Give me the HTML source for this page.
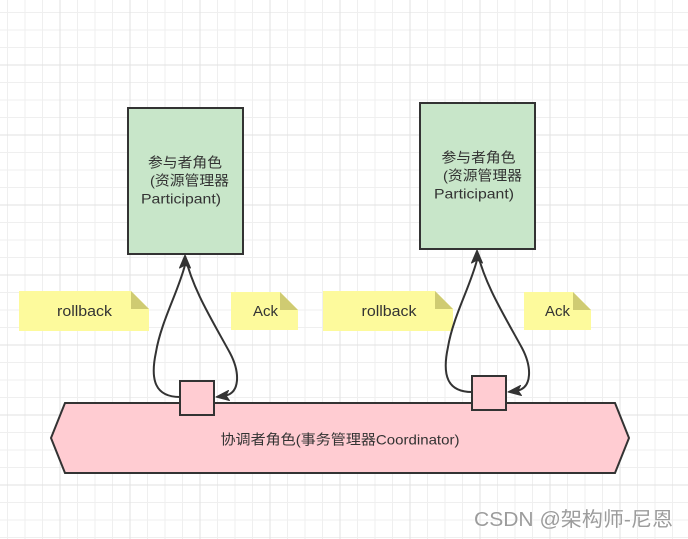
<!DOCTYPE html>
<html><head><meta charset="utf-8"><style>
html,body{margin:0;padding:0;background:#fff;}
svg{display:block;}
text{font-family:"Liberation Sans","Noto Sans CJK SC",sans-serif;fill:#333;}
</style></head><body>
<svg width="688" height="539" viewBox="0 0 688 539" xmlns="http://www.w3.org/2000/svg">
<rect width="688" height="539" fill="#fff"/>
<path stroke="#efefef" stroke-width="1" fill="none" d="M7.5 0V539M25 0V539M42.5 0V539M77.5 0V539M95 0V539M112.5 0V539M147.5 0V539M165 0V539M182.5 0V539M217.5 0V539M235 0V539M252.5 0V539M287.5 0V539M305 0V539M322.5 0V539M357.5 0V539M375 0V539M392.5 0V539M427.5 0V539M445 0V539M462.5 0V539M497.5 0V539M515 0V539M532.5 0V539M567.5 0V539M585 0V539M602.5 0V539M637.5 0V539M655 0V539M672.5 0V539M0 12.5H688M0 30H688M0 47.5H688M0 82.5H688M0 100H688M0 117.5H688M0 152.5H688M0 170H688M0 187.5H688M0 222.5H688M0 240H688M0 257.5H688M0 292.5H688M0 310H688M0 327.5H688M0 362.5H688M0 380H688M0 397.5H688M0 432.5H688M0 450H688M0 467.5H688M0 502.5H688M0 520H688M0 537.5H688"/>
<path stroke="#e2e2e2" stroke-width="1" fill="none" d="M60 0V539M130 0V539M200 0V539M270 0V539M340 0V539M410 0V539M480 0V539M550 0V539M620 0V539M0 65H688M0 135H688M0 205H688M0 275H688M0 345H688M0 415H688M0 485H688"/>

<!-- Notes -->
<g>
<polygon points="19,291 131,291 149,309 149,331 19,331" fill="#fdfa9c"/>
<polygon points="131,291 131,309 149,309" fill="#cfcb72"/>
<text x="57" y="316" font-size="15" textLength="55" lengthAdjust="spacingAndGlyphs">rollback</text>
</g>
<g>
<polygon points="231,292 280,292 298,310 298,330 231,330" fill="#fdfa9c"/>
<polygon points="280,292 280,310 298,310" fill="#cfcb72"/>
<text x="253" y="316" font-size="15" textLength="25" lengthAdjust="spacingAndGlyphs">Ack</text>
</g>
<g>
<polygon points="323,291 435,291 453,309 453,331 323,331" fill="#fdfa9c"/>
<polygon points="435,291 435,309 453,309" fill="#cfcb72"/>
<text x="361.5" y="316" font-size="15" textLength="55" lengthAdjust="spacingAndGlyphs">rollback</text>
</g>
<g>
<polygon points="524,292 573,292 591,310 591,330 524,330" fill="#fdfa9c"/>
<polygon points="573,292 573,310 591,310" fill="#cfcb72"/>
<text x="545" y="316" font-size="15" textLength="25" lengthAdjust="spacingAndGlyphs">Ack</text>
</g>

<!-- Coordinator -->
<polygon points="65,403 615,403 629,438 615,473 65,473 51,438" fill="#ffccd2" stroke="#333" stroke-width="2" stroke-linejoin="miter"/>
<text x="220.5" y="444.5" font-size="14" textLength="239" lengthAdjust="spacingAndGlyphs">协调者角色(事务管理器Coordinator)</text>

<!-- Participant group -->
<g id="grp1">
<rect x="128" y="108" width="115" height="146" fill="#c8e6c9" stroke="#333" stroke-width="2"/>
<text x="148" y="167.5" font-size="14" textLength="74" lengthAdjust="spacingAndGlyphs">参与者角色</text>
<text x="150" y="185.5" font-size="14" textLength="79" lengthAdjust="spacingAndGlyphs">(资源管理器</text>
<text x="141" y="203.5" font-size="14" textLength="80" lengthAdjust="spacingAndGlyphs">Participant)</text>
<path d="M180,397 C155,397 150,380 156,352 C161,322 178,292 185,265" fill="none" stroke="#333" stroke-width="2"/>
<path d="M185,256 C193,290 212,320 230,353 C240,372 240,392 226,395.5" fill="none" stroke="#333" stroke-width="2"/>
<polygon points="185,255 190.5,268 185,265 179.5,268" fill="#333" stroke="#333" stroke-width="1" stroke-linejoin="round"/>
<polygon points="216,397 229.5,400.5 226,395.5 228.5,390.5" fill="#333" stroke="#333" stroke-width="1" stroke-linejoin="round"/>
<rect x="180" y="381" width="34" height="34" fill="#ffccd2" stroke="#333" stroke-width="2"/>
</g>
<g transform="translate(292,-5)">
<rect x="128" y="108" width="115" height="146" fill="#c8e6c9" stroke="#333" stroke-width="2"/>
<text x="149.5" y="167.5" font-size="14" textLength="74" lengthAdjust="spacingAndGlyphs">参与者角色</text>
<text x="151" y="185.5" font-size="14" textLength="79" lengthAdjust="spacingAndGlyphs">(资源管理器</text>
<text x="142" y="203.5" font-size="14" textLength="80" lengthAdjust="spacingAndGlyphs">Participant)</text>
<path d="M180,397 C155,397 150,380 156,352 C161,322 178,292 185,265" fill="none" stroke="#333" stroke-width="2"/>
<path d="M185,256 C193,290 212,320 230,353 C240,372 240,392 226,395.5" fill="none" stroke="#333" stroke-width="2"/>
<polygon points="185,255 190.5,268 185,265 179.5,268" fill="#333" stroke="#333" stroke-width="1" stroke-linejoin="round"/>
<polygon points="216,397 229.5,400.5 226,395.5 228.5,390.5" fill="#333" stroke="#333" stroke-width="1" stroke-linejoin="round"/>
<rect x="180" y="381" width="34" height="34" fill="#ffccd2" stroke="#333" stroke-width="2"/>
</g>

<!-- Watermark -->
<text x="474" y="526" font-size="20" textLength="199" lengthAdjust="spacingAndGlyphs" style="fill:#9c9c9c;stroke:#ffffff;stroke-width:0.6;paint-order:stroke">CSDN @架构师-尼恩</text>
</svg>
</body></html>
